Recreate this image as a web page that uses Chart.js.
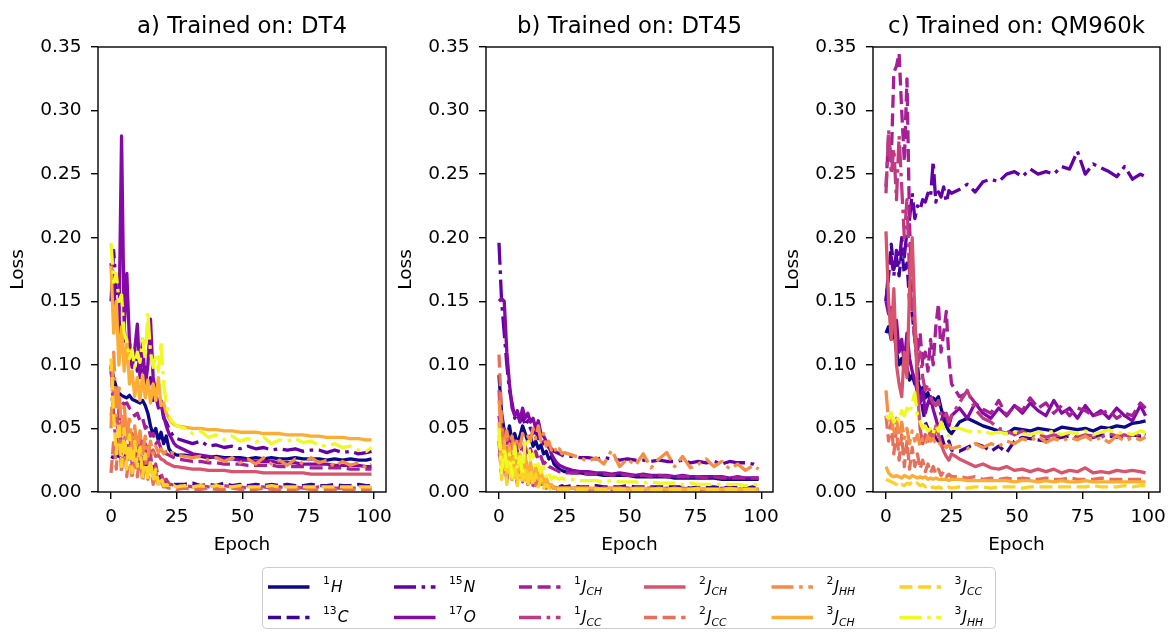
<!DOCTYPE html>
<html>
<head>
<meta charset="utf-8">
<script src="https://cdn.jsdelivr.net/npm/chart.js@4.4.0/dist/chart.umd.min.js"></script>
<style>
  html, body { margin: 0; padding: 0; background: #fff; }
  #stage { position: relative; width: 1169px; height: 633px; overflow: hidden; background: #fff; }
  #stage canvas { position: absolute; top: 0; }
  #legend { position: absolute; left: 0; top: 560px; }
</style>
</head>
<body>
<div id="stage"></div>
<script>
// Epochs at which the loss was logged
const EPOCHS = [0,1,2,3,4, 5,6,7,8,9, 10,11,12,13,14, 15,16,17,18,19, 20,21,22,23,24, 25,
  28,31,34,37,40, 43,46,49,52,55, 58,61,64,67,70, 73,76,79,82,85, 88,91,94,97,99];

const X_TICKS = [0, 25, 50, 75, 100];
const Y_TICKS = [0, 0.05, 0.10, 0.15, 0.20, 0.25, 0.30, 0.35];

const PANEL_TITLES = ['a) Trained on: DT4', 'b) Trained on: DT45', 'c) Trained on: QM960k'];

// Series: nucleus shifts and coupling types
const LABEL_SUP  = ['1', '13', '15', '17', '1', '1', '2', '2', '2', '3', '3', '3'];
const LABEL_BASE = ['H', 'C', 'N', 'O', 'J', 'J', 'J', 'J', 'J', 'J', 'J', 'J'];
const LABEL_SUB  = ['', '', '', '', 'CH', 'CC', 'CH', 'CC', 'HH', 'CH', 'CC', 'HH'];
const COLORS = ['#0d0887', '#3c049b', '#6201a6', '#8509a5', '#a51f97', '#c03a83',
                '#d6546e', '#e7705a', '#f58d45', '#fcad33', '#fbd225', '#f0f921'];
const STYLES = ['solid', 'dashed', 'dashdot', 'solid', 'dashed', 'dashdot',
                'solid', 'dashed', 'dashdot', 'solid', 'dashed', 'dashdot'];

// ---- a) DT4 ----
const DT4_1H   = [0.098,0.090,0.082,0.078,0.076, 0.075,0.074,0.076,0.073,0.072, 0.071,0.070,0.072,0.068,0.062, 0.052,0.045,0.050,0.040,0.047, 0.038,0.044,0.034,0.031,0.030, 0.029,
  0.029,0.028,0.028,0.027,0.028, 0.027,0.027,0.027,0.026,0.027, 0.026,0.027,0.026,0.026,0.027, 0.026,0.026,0.026,0.025,0.026, 0.025,0.026,0.025,0.025,0.026];
const DT4_13C  = [0.028,0.027,0.029,0.028,0.030, 0.026,0.032,0.025,0.030,0.024, 0.028,0.022,0.026,0.020,0.024, 0.018,0.020,0.014,0.016,0.010, 0.009,0.008,0.007,0.007,0.006, 0.006,
  0.006,0.007,0.005,0.006,0.005, 0.007,0.005,0.006,0.005,0.006, 0.005,0.006,0.005,0.006,0.005, 0.005,0.006,0.005,0.005,0.006, 0.005,0.005,0.006,0.005,0.005];
const DT4_15N  = [0.150,0.190,0.160,0.135,0.120, 0.130,0.105,0.118,0.100,0.112, 0.095,0.105,0.088,0.098,0.080, 0.090,0.072,0.078,0.065,0.070, 0.058,0.055,0.050,0.046,0.043, 0.042,
  0.040,0.038,0.040,0.036,0.037, 0.035,0.036,0.034,0.036,0.034, 0.035,0.033,0.034,0.033,0.034, 0.032,0.033,0.033,0.031,0.033, 0.031,0.032,0.030,0.031,0.032];
const DT4_17O  = [0.180,0.160,0.140,0.125,0.280, 0.130,0.172,0.118,0.098,0.112, 0.132,0.090,0.120,0.082,0.100, 0.136,0.090,0.078,0.066,0.072, 0.060,0.052,0.046,0.042,0.038, 0.036,
  0.033,0.030,0.029,0.028,0.027, 0.026,0.026,0.025,0.025,0.024, 0.024,0.024,0.023,0.023,0.023, 0.022,0.022,0.022,0.022,0.021, 0.021,0.021,0.021,0.020,0.020];
const DT4_1JCH = [0.095,0.080,0.072,0.070,0.071, 0.069,0.070,0.066,0.064,0.060, 0.062,0.056,0.058,0.050,0.052, 0.044,0.046,0.038,0.040,0.034, 0.035,0.030,0.029,0.028,0.027, 0.026,
  0.025,0.024,0.024,0.023,0.023, 0.022,0.022,0.022,0.021,0.021, 0.021,0.021,0.020,0.020,0.020, 0.020,0.019,0.019,0.019,0.019, 0.019,0.018,0.018,0.018,0.018];
const DT4_1JCC = [0.100,0.060,0.035,0.065,0.030, 0.055,0.025,0.048,0.022,0.045, 0.020,0.042,0.018,0.038,0.015, 0.030,0.012,0.022,0.010,0.015, 0.008,0.010,0.006,0.006,0.005, 0.005,
  0.005,0.004,0.005,0.004,0.004, 0.005,0.004,0.004,0.003,0.004, 0.004,0.003,0.004,0.003,0.004, 0.003,0.003,0.004,0.003,0.003, 0.003,0.003,0.003,0.003,0.003];
const DT4_2JCH = [0.062,0.055,0.060,0.050,0.055, 0.046,0.050,0.042,0.046,0.040, 0.043,0.037,0.040,0.034,0.036, 0.031,0.033,0.028,0.029,0.026, 0.025,0.023,0.022,0.021,0.020, 0.020,
  0.019,0.018,0.018,0.017,0.017, 0.017,0.016,0.016,0.016,0.016, 0.015,0.015,0.015,0.015,0.015, 0.015,0.014,0.014,0.014,0.014, 0.014,0.014,0.014,0.014,0.014];
const DT4_2JCC = [0.015,0.040,0.018,0.050,0.015, 0.045,0.012,0.038,0.010,0.035, 0.012,0.030,0.008,0.028,0.010, 0.022,0.006,0.015,0.005,0.008, 0.004,0.004,0.003,0.003,0.003, 0.002,
  0.003,0.002,0.002,0.003,0.002, 0.002,0.003,0.002,0.002,0.002, 0.003,0.002,0.002,0.002,0.002, 0.003,0.002,0.002,0.002,0.002, 0.002,0.002,0.002,0.002,0.002];
const DT4_2JHH = [0.050,0.110,0.060,0.085,0.045, 0.070,0.040,0.060,0.035,0.052, 0.032,0.048,0.030,0.044,0.028, 0.040,0.030,0.036,0.031,0.034, 0.030,0.032,0.030,0.031,0.030, 0.029,
  0.028,0.027,0.028,0.025,0.027, 0.024,0.027,0.023,0.026,0.022, 0.027,0.022,0.025,0.021,0.026, 0.022,0.027,0.023,0.025,0.020, 0.024,0.021,0.023,0.019,0.022];
const DT4_3JCH = [0.178,0.125,0.150,0.100,0.130, 0.095,0.120,0.085,0.095,0.075, 0.090,0.072,0.092,0.074,0.088, 0.070,0.085,0.072,0.090,0.068, 0.070,0.062,0.058,0.055,0.053, 0.052,
  0.051,0.050,0.050,0.049,0.049, 0.048,0.048,0.047,0.047,0.047, 0.046,0.046,0.046,0.045,0.045, 0.045,0.044,0.044,0.043,0.043, 0.043,0.042,0.042,0.041,0.041];
const DT4_3JCC = [0.105,0.060,0.030,0.055,0.020, 0.050,0.018,0.045,0.015,0.040, 0.020,0.035,0.012,0.030,0.010, 0.025,0.008,0.018,0.006,0.012, 0.005,0.006,0.005,0.004,0.005, 0.004,
  0.005,0.004,0.005,0.004,0.005, 0.004,0.004,0.005,0.004,0.004, 0.004,0.005,0.004,0.004,0.004, 0.004,0.004,0.004,0.004,0.004, 0.004,0.004,0.004,0.004,0.004];
const DT4_3JHH = [0.196,0.165,0.172,0.150,0.155, 0.125,0.118,0.105,0.112,0.098, 0.110,0.102,0.120,0.105,0.141, 0.110,0.098,0.108,0.095,0.118, 0.085,0.070,0.060,0.056,0.054, 0.052,
  0.050,0.046,0.048,0.043,0.045, 0.041,0.044,0.040,0.042,0.039, 0.043,0.038,0.041,0.040,0.042, 0.039,0.040,0.037,0.036,0.038, 0.035,0.036,0.033,0.032,0.035];

// ---- b) DT45 ----
const DT45_1H   = [0.092,0.062,0.048,0.042,0.052, 0.040,0.046,0.038,0.044,0.052, 0.046,0.040,0.044,0.036,0.040, 0.034,0.037,0.030,0.032,0.026, 0.028,0.022,0.020,0.018,0.017, 0.016,
  0.015,0.015,0.014,0.014,0.013, 0.013,0.013,0.013,0.012,0.012, 0.012,0.012,0.012,0.011,0.011, 0.011,0.011,0.011,0.011,0.010, 0.010,0.010,0.010,0.010,0.010];
const DT45_13C  = [0.030,0.025,0.035,0.018,0.028, 0.014,0.024,0.012,0.020,0.010, 0.018,0.009,0.015,0.008,0.012, 0.007,0.010,0.006,0.008,0.006, 0.005,0.005,0.005,0.004,0.005, 0.004,
  0.005,0.004,0.004,0.005,0.004, 0.004,0.004,0.005,0.004,0.004, 0.004,0.004,0.004,0.004,0.004, 0.003,0.004,0.004,0.004,0.003, 0.004,0.004,0.003,0.004,0.004];
const DT45_15N  = [0.196,0.150,0.125,0.100,0.080, 0.070,0.058,0.062,0.055,0.060, 0.052,0.056,0.050,0.046,0.048, 0.042,0.044,0.038,0.040,0.035, 0.034,0.032,0.031,0.030,0.029, 0.028,
  0.028,0.027,0.027,0.026,0.027, 0.026,0.025,0.026,0.025,0.025, 0.024,0.025,0.024,0.024,0.025, 0.023,0.024,0.023,0.024,0.022, 0.024,0.023,0.023,0.022,0.020];
const DT45_17O  = [0.150,0.152,0.150,0.110,0.085, 0.066,0.060,0.064,0.056,0.066, 0.058,0.062,0.055,0.058,0.050, 0.056,0.046,0.044,0.040,0.036, 0.030,0.026,0.023,0.021,0.020, 0.019,
  0.017,0.016,0.016,0.015,0.015, 0.014,0.015,0.014,0.013,0.014, 0.013,0.013,0.013,0.012,0.013, 0.012,0.012,0.012,0.012,0.012, 0.011,0.012,0.011,0.011,0.011];
const DT45_1JCH = [0.060,0.045,0.050,0.038,0.045, 0.035,0.042,0.032,0.040,0.030, 0.036,0.028,0.034,0.026,0.032, 0.025,0.028,0.022,0.024,0.020, 0.019,0.018,0.017,0.016,0.016, 0.015,
  0.015,0.015,0.014,0.014,0.014, 0.013,0.014,0.013,0.013,0.013, 0.012,0.013,0.012,0.012,0.012, 0.012,0.012,0.011,0.012,0.011, 0.011,0.011,0.011,0.011,0.011];
const DT45_1JCC = [0.040,0.012,0.030,0.008,0.035, 0.010,0.028,0.006,0.025,0.008, 0.030,0.006,0.022,0.005,0.018, 0.005,0.012,0.004,0.008,0.004, 0.004,0.003,0.003,0.003,0.003, 0.003,
  0.003,0.003,0.002,0.003,0.003, 0.002,0.003,0.003,0.002,0.003, 0.003,0.002,0.003,0.002,0.003, 0.002,0.003,0.002,0.002,0.003, 0.002,0.002,0.003,0.002,0.002];
const DT45_2JCH = [0.080,0.040,0.025,0.035,0.018, 0.030,0.015,0.026,0.012,0.022, 0.010,0.020,0.008,0.016,0.007, 0.012,0.006,0.009,0.005,0.006, 0.004,0.004,0.003,0.003,0.003, 0.003,
  0.003,0.003,0.003,0.002,0.003, 0.003,0.002,0.003,0.002,0.002, 0.003,0.002,0.002,0.002,0.003, 0.002,0.002,0.002,0.002,0.002, 0.002,0.002,0.002,0.002,0.002];
const DT45_2JCC = [0.108,0.060,0.030,0.045,0.020, 0.038,0.012,0.030,0.010,0.025, 0.008,0.020,0.006,0.015,0.005, 0.010,0.004,0.007,0.003,0.004, 0.003,0.002,0.002,0.002,0.002, 0.002,
  0.002,0.002,0.002,0.002,0.002, 0.002,0.002,0.002,0.002,0.002, 0.002,0.002,0.002,0.002,0.002, 0.002,0.002,0.002,0.002,0.002, 0.002,0.002,0.002,0.002,0.002];
const DT45_2JHH = [0.072,0.050,0.040,0.048,0.036, 0.044,0.032,0.042,0.035,0.046, 0.038,0.044,0.040,0.050,0.042, 0.052,0.040,0.046,0.036,0.040, 0.033,0.036,0.031,0.034,0.030, 0.031,
  0.029,0.027,0.024,0.027,0.022, 0.033,0.020,0.026,0.021,0.030, 0.019,0.026,0.031,0.020,0.028, 0.019,0.022,0.026,0.020,0.024, 0.018,0.022,0.017,0.021,0.018];
const DT45_3JCH = [0.055,0.020,0.040,0.012,0.035, 0.010,0.038,0.015,0.030,0.010, 0.028,0.012,0.024,0.008,0.020, 0.010,0.018,0.006,0.012,0.005, 0.006,0.003,0.003,0.003,0.003, 0.003,
  0.003,0.003,0.003,0.003,0.002, 0.003,0.003,0.002,0.003,0.003, 0.002,0.003,0.002,0.003,0.002, 0.002,0.003,0.002,0.002,0.002, 0.003,0.002,0.002,0.002,0.002];
const DT45_3JCC = [0.045,0.010,0.030,0.006,0.025, 0.008,0.022,0.005,0.026,0.006, 0.020,0.004,0.018,0.005,0.014, 0.004,0.010,0.003,0.006,0.003, 0.002,0.002,0.002,0.002,0.002, 0.002,
  0.002,0.002,0.002,0.002,0.002, 0.002,0.002,0.002,0.002,0.002, 0.002,0.002,0.002,0.002,0.002, 0.002,0.002,0.002,0.002,0.002, 0.002,0.002,0.002,0.002,0.002];
const DT45_3JHH = [0.050,0.015,0.035,0.020,0.030, 0.012,0.036,0.018,0.028,0.014, 0.040,0.042,0.025,0.030,0.018, 0.022,0.015,0.020,0.012,0.016, 0.010,0.012,0.011,0.010,0.011, 0.010,
  0.010,0.009,0.009,0.009,0.008, 0.009,0.008,0.008,0.008,0.007, 0.008,0.007,0.007,0.007,0.006, 0.007,0.006,0.006,0.006,0.006, 0.006,0.006,0.005,0.006,0.006];

// ---- c) QM960k ----
const QM_1H   = [0.125,0.130,0.120,0.128,0.110, 0.100,0.105,0.095,0.098,0.088, 0.092,0.085,0.090,0.078,0.082, 0.074,0.078,0.070,0.074,0.072, 0.075,0.066,0.058,0.052,0.048, 0.046,
  0.055,0.058,0.055,0.052,0.050, 0.048,0.046,0.050,0.049,0.048, 0.050,0.049,0.048,0.051,0.050, 0.049,0.050,0.048,0.051,0.050, 0.052,0.051,0.054,0.055,0.056];
const QM_13C  = [0.150,0.170,0.195,0.175,0.185, 0.170,0.190,0.172,0.180,0.150, 0.140,0.120,0.100,0.080,0.065, 0.055,0.050,0.045,0.048,0.042, 0.040,0.045,0.038,0.035,0.040, 0.033,
  0.032,0.035,0.038,0.036,0.032, 0.036,0.031,0.040,0.043,0.042, 0.041,0.040,0.042,0.043,0.044, 0.042,0.044,0.043,0.045,0.044, 0.043,0.044,0.045,0.044,0.045];
const QM_15N  = [0.150,0.175,0.185,0.170,0.190, 0.180,0.200,0.185,0.205,0.215, 0.235,0.215,0.225,0.222,0.230, 0.228,0.235,0.232,0.260,0.228, 0.236,0.232,0.240,0.228,0.237, 0.235,
  0.238,0.242,0.236,0.244,0.246, 0.244,0.250,0.252,0.248,0.254, 0.250,0.252,0.250,0.256,0.254, 0.268,0.250,0.258,0.255,0.252, 0.248,0.256,0.246,0.250,0.248];
const QM_17O  = [0.150,0.140,0.145,0.125,0.135, 0.110,0.120,0.100,0.125,0.105, 0.095,0.088,0.078,0.070,0.080, 0.062,0.070,0.075,0.065,0.058, 0.050,0.055,0.062,0.058,0.052, 0.060,
  0.066,0.058,0.070,0.062,0.058, 0.066,0.060,0.068,0.062,0.070, 0.064,0.060,0.072,0.062,0.066, 0.058,0.068,0.060,0.064,0.058, 0.066,0.060,0.056,0.068,0.060];
const QM_1JCH = [0.240,0.280,0.260,0.330,0.335, 0.345,0.300,0.260,0.325,0.210, 0.150,0.130,0.110,0.125,0.100, 0.110,0.095,0.120,0.100,0.130, 0.148,0.110,0.125,0.142,0.105, 0.085,
  0.075,0.078,0.070,0.065,0.062, 0.072,0.060,0.068,0.064,0.074, 0.066,0.070,0.062,0.068,0.060, 0.066,0.064,0.060,0.062,0.064, 0.058,0.062,0.060,0.070,0.066];
const QM_1JCC = [0.235,0.285,0.250,0.270,0.230, 0.280,0.240,0.200,0.230,0.170, 0.140,0.120,0.100,0.110,0.090, 0.080,0.085,0.075,0.070,0.068, 0.072,0.060,0.058,0.062,0.055, 0.060,
  0.070,0.080,0.065,0.058,0.055, 0.050,0.048,0.045,0.048,0.044, 0.046,0.043,0.045,0.044,0.046, 0.043,0.045,0.044,0.043,0.046, 0.044,0.045,0.043,0.046,0.045];
const QM_2JCH = [0.205,0.150,0.120,0.160,0.100, 0.085,0.075,0.110,0.090,0.160, 0.200,0.140,0.080,0.050,0.038, 0.045,0.040,0.048,0.042,0.052, 0.045,0.038,0.032,0.028,0.025, 0.030,
  0.026,0.023,0.020,0.022,0.019, 0.018,0.020,0.017,0.018,0.016, 0.018,0.016,0.018,0.015,0.017, 0.016,0.019,0.015,0.016,0.015, 0.017,0.016,0.017,0.016,0.015];
const QM_2JCC = [0.060,0.040,0.055,0.030,0.050, 0.025,0.045,0.020,0.040,0.018, 0.035,0.020,0.030,0.018,0.025, 0.016,0.022,0.015,0.020,0.014, 0.018,0.013,0.016,0.012,0.014, 0.012,
  0.012,0.011,0.012,0.010,0.011, 0.010,0.011,0.010,0.011,0.010, 0.010,0.011,0.010,0.010,0.011, 0.010,0.010,0.010,0.011,0.010, 0.010,0.010,0.010,0.010,0.010];
const QM_2JHH = [0.080,0.055,0.062,0.045,0.058, 0.040,0.055,0.042,0.050,0.038, 0.048,0.040,0.045,0.036,0.042, 0.038,0.044,0.040,0.042,0.038, 0.040,0.036,0.038,0.035,0.037, 0.034,
  0.036,0.034,0.038,0.035,0.038, 0.036,0.040,0.038,0.042,0.040, 0.044,0.039,0.042,0.040,0.043, 0.041,0.044,0.040,0.043,0.039, 0.044,0.040,0.043,0.041,0.043];
const QM_3JCH = [0.020,0.015,0.013,0.012,0.013, 0.012,0.011,0.013,0.012,0.011, 0.013,0.012,0.011,0.012,0.011, 0.012,0.010,0.011,0.010,0.011, 0.010,0.010,0.010,0.010,0.009, 0.010,
  0.010,0.009,0.009,0.009,0.009, 0.009,0.009,0.008,0.009,0.009, 0.008,0.009,0.008,0.009,0.008, 0.008,0.009,0.008,0.008,0.008, 0.008,0.008,0.008,0.008,0.008];
const QM_3JCC = [0.010,0.009,0.008,0.007,0.006, 0.004,0.006,0.005,0.007,0.006, 0.008,0.006,0.007,0.005,0.006, 0.004,0.005,0.003,0.004,0.003, 0.004,0.003,0.004,0.003,0.004, 0.003,
  0.004,0.003,0.004,0.004,0.003, 0.004,0.004,0.004,0.003,0.004, 0.004,0.004,0.004,0.004,0.004, 0.004,0.004,0.005,0.004,0.004, 0.004,0.005,0.004,0.005,0.005];
const QM_3JHH = [0.060,0.058,0.062,0.055,0.060, 0.056,0.064,0.060,0.066,0.062, 0.070,0.078,0.060,0.055,0.050, 0.052,0.048,0.050,0.046,0.052, 0.048,0.055,0.050,0.046,0.044, 0.050,
  0.050,0.048,0.047,0.048,0.046, 0.047,0.046,0.047,0.046,0.045, 0.047,0.046,0.048,0.045,0.047, 0.046,0.048,0.045,0.047,0.049, 0.046,0.047,0.045,0.048,0.047];

const PANEL_DATA = [
  [DT4_1H, DT4_13C, DT4_15N, DT4_17O, DT4_1JCH, DT4_1JCC, DT4_2JCH, DT4_2JCC, DT4_2JHH, DT4_3JCH, DT4_3JCC, DT4_3JHH],
  [DT45_1H, DT45_13C, DT45_15N, DT45_17O, DT45_1JCH, DT45_1JCC, DT45_2JCH, DT45_2JCC, DT45_2JHH, DT45_3JCH, DT45_3JCC, DT45_3JHH],
  [QM_1H, QM_13C, QM_15N, QM_17O, QM_1JCH, QM_1JCC, QM_2JCH, QM_2JCC, QM_2JHH, QM_3JCH, QM_3JCC, QM_3JHH]
];

// ---- layout / styling ----
const FONT = "'DejaVu Sans', sans-serif";
const DASH = { solid: [], dashed: [13, 5.6], dashdot: [22, 5.6, 3.6, 5.6] };
const LINE_W = 3.3;
const CANVAS_H = 562;
const PANEL_BOX = [
  { left: 0,   width: 400, right: 14 },
  { left: 388, width: 399, right: 14 },
  { left: 775, width: 394, right: 9 }
];

Chart.defaults.font.family = FONT;
Chart.defaults.color = '#000';

// box around the plotting area, drawn over the lines like axis spines
const framePlugin = {
  id: 'frame',
  afterDatasetsDraw(chart) {
    const { ctx, chartArea: a } = chart;
    ctx.save();
    ctx.strokeStyle = '#000';
    ctx.lineWidth = 1.4;
    ctx.strokeRect(a.left, a.top, a.right - a.left, a.bottom - a.top);
    ctx.restore();
  }
};

// panel title centred over the plotting area
const panelTitlePlugin = {
  id: 'panelTitle',
  afterDraw(chart, args, opts) {
    const { ctx, chartArea: a } = chart;
    ctx.save();
    ctx.font = '22.8px ' + FONT;
    ctx.fillStyle = '#000';
    ctx.textAlign = 'center';
    ctx.textBaseline = 'alphabetic';
    ctx.fillText(opts.text, (a.left + a.right) / 2, 32.7);
    ctx.restore();
  }
};

const stage = document.getElementById('stage');

function seriesLabel(i) {
  return LABEL_SUP[i] + LABEL_BASE[i] + LABEL_SUB[i];
}

function makePanel(idx) {
  const box = PANEL_BOX[idx];
  const cv = document.createElement('canvas');
  cv.width = box.width;
  cv.height = CANVAS_H;
  cv.style.left = box.left + 'px';
  cv.style.width = box.width + 'px';
  cv.style.height = CANVAS_H + 'px';
  stage.appendChild(cv);

  const datasets = PANEL_DATA[idx].map((vals, i) => ({
    label: seriesLabel(i),
    data: vals.map((v, k) => ({ x: EPOCHS[k], y: v })),
    borderColor: COLORS[i],
    backgroundColor: COLORS[i],
    borderWidth: LINE_W,
    borderDash: DASH[STYLES[i]],
    borderCapStyle: 'butt',
    borderJoinStyle: 'round',
    pointRadius: 0,
    pointHoverRadius: 0,
    fill: false,
    tension: 0,
    order: 11 - i
  }));

  const tickFont = { size: 18.5, family: FONT };

  new Chart(cv, {
    type: 'line',
    data: { datasets },
    plugins: [framePlugin, panelTitlePlugin],
    options: {
      responsive: false,
      animation: false,
      devicePixelRatio: 1,
      events: [],
      layout: { padding: { left: 0, right: box.right, top: 47, bottom: 0 } },
      plugins: {
        legend: { display: false },
        tooltip: { enabled: false },
        title: { display: false },
        panelTitle: { text: PANEL_TITLES[idx] }
      },
      scales: {
        x: {
          type: 'linear',
          min: -4.95,
          max: 104.5,
          afterBuildTicks: s => { s.ticks = X_TICKS.map(v => ({ value: v })); },
          afterFit: s => { s.height = 70; s.paddingLeft = 0; s.paddingRight = 0; },
          ticks: { autoSkip: false, maxRotation: 0, minRotation: 0, padding: 6.9, color: '#000', font: tickFont,
                   callback: v => String(v) },
          grid: { drawOnChartArea: false, drawTicks: true, tickLength: 7, color: '#000', lineWidth: 1.4 },
          border: { display: false },
          title: { display: true, text: 'Epoch', color: '#000', font: tickFont, padding: { top: 0, bottom: 5.6 } }
        },
        y: {
          type: 'linear',
          min: 0,
          max: 0.35,
          afterBuildTicks: s => { s.ticks = Y_TICKS.map(v => ({ value: v })); },
          afterFit: s => { s.width = 98; s.paddingTop = 0; s.paddingBottom = 0; },
          ticks: { autoSkip: false, padding: 9.5, color: '#000', font: tickFont,
                   callback: v => Number(v).toFixed(2) },
          grid: { drawOnChartArea: false, drawTicks: true, tickLength: 7, color: '#000', lineWidth: 1.4 },
          border: { display: false },
          title: { display: true, text: 'Loss', color: '#000', font: tickFont, padding: { top: 7.5, bottom: 0 } }
        }
      }
    }
  });
}

PANEL_DATA.forEach((_, i) => makePanel(i));

// ---- shared legend (6 columns x 2 rows, filled column by column) ----
const LEG_COL_X = [268, 394, 519, 644, 771.5, 899.5];
const LEG_ROW_LINE_Y = [27, 57.5];
const LEG_ROW_TEXT_Y = [31.5, 62];
const SVGNS = 'http://www.w3.org/2000/svg';

function el(name, attrs, parent) {
  const e = document.createElementNS(SVGNS, name);
  for (const k in attrs) e.setAttribute(k, attrs[k]);
  if (parent) parent.appendChild(e);
  return e;
}

const svg = el('svg', { id: 'legend', width: 1169, height: 73, viewBox: '0 0 1169 73' });
stage.appendChild(svg);
el('rect', { x: 262.5, y: 7.5, width: 733, height: 61, rx: 4, ry: 4,
             fill: '#ffffff', 'fill-opacity': 0.8, stroke: '#cccccc', 'stroke-width': 1 }, svg);

LABEL_BASE.forEach((base, i) => {
  const col = Math.floor(i / 2), row = i % 2;
  const x0 = LEG_COL_X[col];
  const ly = LEG_ROW_LINE_Y[row];
  const line = el('line', { x1: x0, y1: ly, x2: x0 + 41.5, y2: ly, stroke: COLORS[i],
                            'stroke-width': LINE_W, 'stroke-linecap': 'butt' }, svg);
  if (DASH[STYLES[i]].length) line.setAttribute('stroke-dasharray', DASH[STYLES[i]].join(' '));

  const t = el('text', { x: x0 + 55, y: LEG_ROW_TEXT_Y[row], 'font-family': FONT, 'font-size': 15.4, fill: '#000' }, svg);
  const sup = el('tspan', { 'font-size': 10.8, dy: -7.7 }, t);
  sup.textContent = LABEL_SUP[i];
  const b = el('tspan', { 'font-style': 'italic', dy: 7.7, dx: 1 }, t);
  b.textContent = base;
  if (LABEL_SUB[i]) {
    const sub = el('tspan', { 'font-style': 'italic', 'font-size': 10.8, dy: 3.5 }, t);
    sub.textContent = LABEL_SUB[i];
  }
});
</script>
</body>
</html>
